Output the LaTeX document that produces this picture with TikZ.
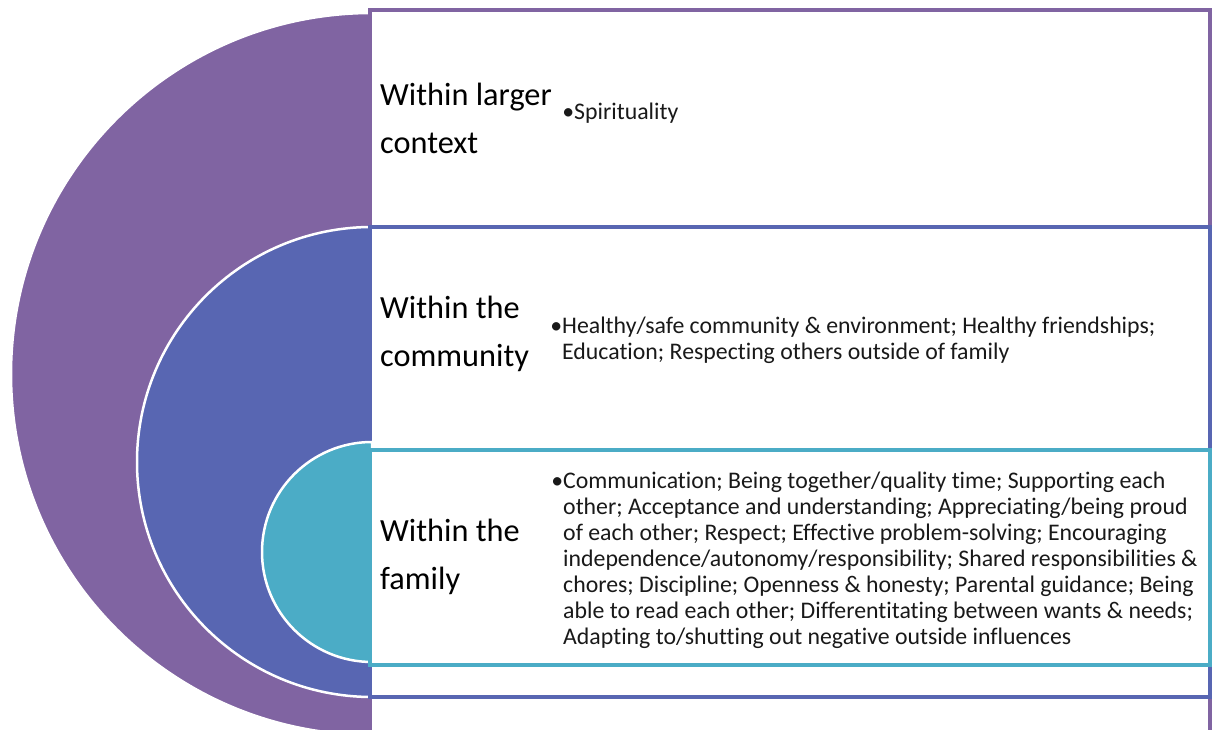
\documentclass[tikz,border=0pt]{standalone}
\usepackage{fontspec}
\setmainfont{Carlito}[Ligatures=NoCommon]
\usepackage{tikz}
\definecolor{myPurple}{RGB}{128,100,162}
\definecolor{myBlue}{RGB}{88,102,178}
\definecolor{myTeal}{RGB}{75,172,198}
\definecolor{myText}{RGB}{25,25,25}

\begin{document}
\begin{tikzpicture}[x=1pt, y=1pt,
  disc/.style={draw=white, line width=2.5pt},
  band/.style={line width=3.5pt, fill=white},
  head/.style={font=\fontsize{32.3}{48}\selectfont, anchor=west, align=left, inner sep=0pt},
  items/.style={font=\fontsize{23.8}{26}\selectfont, anchor=west, align=left, inner sep=0pt, text=myText},
]
  \useasboundingbox (0,0) rectangle (1212,730);
  \clip (0,0) rectangle (1212,730);
  % larger context
  \path[disc, fill=myPurple] (372,717) arc[start angle=90, end angle=270, radius=361] -- cycle;
  \draw[band, draw=myPurple] (370,-20) rectangle (1210,720);
  % community
  \path[disc, fill=myBlue] (372,503) arc[start angle=90, end angle=270, radius=235] -- cycle;
  \draw[band, draw=myBlue] (370,33) rectangle (1210,503);
  % family
  \path[disc, fill=myTeal] (372,288) arc[start angle=90, end angle=270, radius=110] -- cycle;
  \draw[band, draw=myTeal] (370,65) rectangle (1210,280);

  \node[head] (larger) at (380,612) {Within larger\\context};
  \node[items] (larger-list) at (574,617) {\llap{•}Spirituality};

  \node[head] (community) at (380,396) {Within the\\community};
  \node[items] (community-list) at (562,390) {\llap{•}Healthy/safe community \& environment; Healthy friendships;\\
    Education; Respecting others outside of family};

  \node[head] (family) at (380,173) {Within the\\family};
  \node[items] (family-list) at (563,170) {\llap{•}Communication; Being together/quality time; Supporting each\\
    other; Acceptance and understanding; Appreciating/being proud\\
    of each other; Respect; Effective problem-solving; Encouraging\\
    independence/autonomy/responsibility; Shared responsibilities \&\\
    chores; Discipline; Openness \& honesty; Parental guidance; Being\\
    able to read each other; Differentitating between wants \& needs;\\
    Adapting to/shutting out negative outside influences};
\end{tikzpicture}
\end{document}
